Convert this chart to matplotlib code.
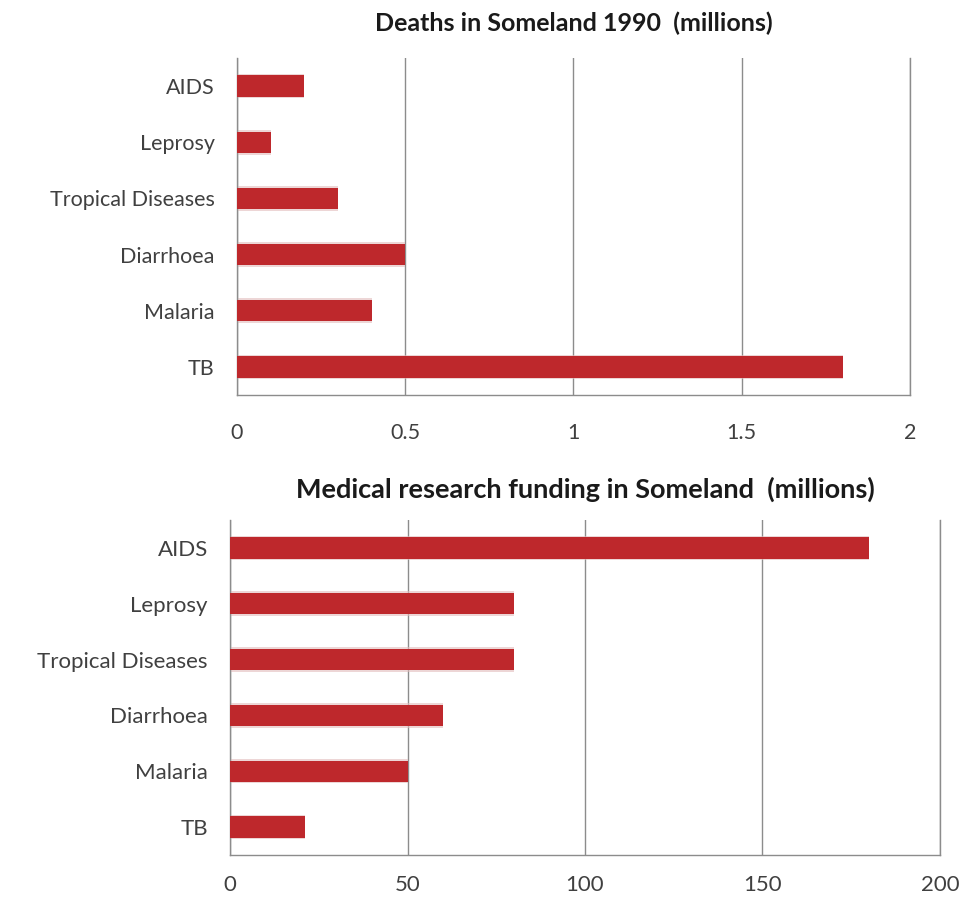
import matplotlib.pyplot as plt

plt.rcParams['font.family'] = ['Lato', 'DejaVu Sans']

# data
diseases = ["TB", "Malaria", "Diarrhoea", "Tropical Diseases", "Leprosy", "AIDS"]
deaths = [1.8, 0.4, 0.5, 0.3, 0.1, 0.2]
funding = [21, 50, 60, 80, 80, 180]

bar_color = '#be282c'
grid_color = '#8c8c8c'

fig = plt.figure(figsize=(9.59, 8.99), dpi=100)
ax1 = fig.add_axes([0.247, 0.5606, 0.702, 0.375])
ax2 = fig.add_axes([0.240, 0.049, 0.740, 0.3726])


def style_axes(ax, values, xmax, step, title, ticklabels, xpad, tpad, fs, tfs):
    # soft shadow under the bars
    ax.barh(diseases, values, height=0.44, color='#e2bcbc', zorder=2,
            alpha=0.6, linewidth=0)
    ax.barh(diseases, values, height=0.38, color=bar_color, zorder=3)
    ax.set_xlim(0, xmax)
    ax.set_ylim(-0.5, 5.5)
    ticks = [i * step for i in range(len(ticklabels))]
    ax.set_xticks(ticks)
    ax.set_xticklabels(ticklabels, fontsize=fs, color='#404040')
    ax.tick_params(axis='x', length=0, pad=xpad)
    ax.tick_params(axis='y', length=0, pad=16, labelsize=fs, labelcolor='#404040')
    ax.grid(axis='x', color=grid_color, linewidth=1.0, zorder=1)
    for s in ['left', 'right', 'bottom']:
        ax.spines[s].set_color(grid_color)
        ax.spines[s].set_linewidth(1.0)
    ax.spines['top'].set_visible(False)
    ax.set_title(title, fontsize=tfs, fontweight='bold', color='#1a1a1a', pad=tpad)


style_axes(ax1, deaths, 2, 0.5, "Deaths in Someland 1990  (millions)",
           ["0", "0.5", "1", "1.5", "2"], 20, 19, 15.5, 18)
style_axes(ax2, funding, 200, 50, "Medical research funding in Someland  (millions)",
           ["0", "50", "100", "150", "200"], 14.5, 16, 16, 19.5)

fig.savefig("out.png", dpi=100, facecolor='white')
